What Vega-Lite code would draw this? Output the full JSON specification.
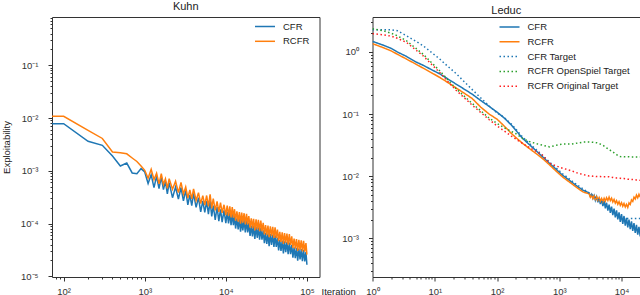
{
 "$schema": "https://vega.github.io/schema/vega-lite/v6.json",
 "padding": {"left": 0, "top": 0, "right": 0, "bottom": 0},
 "background": "white",
 "bounds": "flush",
 "spacing": 52.5,
 "config": {
  "font": "Liberation Sans",
  "view": {"stroke": "#333333", "strokeWidth": 1},
  "axis": {"domain": false, "grid": false, "tickColor": "#333333", "tickWidth": 1, "labelFont": "Liberation Sans", "labelFontSize": 9.5, "labelColor": "#333333", "titleFont": "Liberation Sans", "titleFontSize": 9.5, "titleFontWeight": "normal", "titleColor": "#222222", "labelOverlap": false, "labelFlush": false},
  "title": {"font": "Liberation Sans", "fontSize": 11, "fontWeight": "normal", "color": "#222222", "offset": 1},
  "legend": {"orient": "none", "labelFont": "Liberation Sans", "labelFontSize": 9.5, "labelColor": "#222222", "symbolSize": 100, "symbolStrokeWidth": 1.5, "symbolType": "M-2,0H2", "rowPadding": 3.8, "labelOffset": 12}
 },
 "resolve": {"scale": {"color": "independent", "strokeDash": "independent"}},
 "datasets": {
  "kuhn": [
   {"x":72,"CFR":7.8e-3,"RCFR":1.08e-2},
   {"x":100,"CFR":7.8e-3,"RCFR":1.08e-2},
   {"x":200,"CFR":3.62e-3,"RCFR":5.86e-3},
   {"x":300,"CFR":3.04e-3,"RCFR":4.1e-3},
   {"x":400,"CFR":1.9e-3,"RCFR":2.27e-3},
   {"x":500,"CFR":1.23e-3,"RCFR":2.2e-3},
   {"x":600,"CFR":1.4e-3,"RCFR":2.1e-3},
   {"x":700,"CFR":9.1e-4,"RCFR":1.75e-3},
   {"x":800,"CFR":8.8e-4,"RCFR":1.5e-3},
   {"x":900,"CFR":1.1e-3,"RCFR":1.23e-3},
   {"x":1000,"CFR":9.5e-4,"RCFR":1.02e-3},
   {"x":1100,"CFR":5.75e-4,"RCFR":7.24e-4},
   {"x":1200,"CFR":8.43e-4,"RCFR":1.07e-3},
   {"x":1300,"CFR":4.78e-4,"RCFR":6.82e-4},
   {"x":1400,"CFR":7.87e-4,"RCFR":8.99e-4},
   {"x":1500,"CFR":4.61e-4,"RCFR":5.66e-4},
   {"x":1600,"CFR":7.66e-4,"RCFR":8.87e-4},
   {"x":1700,"CFR":4.41e-4,"RCFR":5.5e-4},
   {"x":1800,"CFR":6.31e-4,"RCFR":7.05e-4},
   {"x":1900,"CFR":3.64e-4,"RCFR":4.66e-4},
   {"x":2000,"CFR":5.96e-4,"RCFR":7.08e-4},
   {"x":2200,"CFR":3.09e-4,"RCFR":4.46e-4},
   {"x":2400,"CFR":4.92e-4,"RCFR":6.34e-4},
   {"x":2600,"CFR":2.92e-4,"RCFR":3.86e-4},
   {"x":2800,"CFR":4.82e-4,"RCFR":6.03e-4},
   {"x":3000,"CFR":2.69e-4,"RCFR":3.63e-4},
   {"x":3200,"CFR":4.24e-4,"RCFR":4.92e-4},
   {"x":3400,"CFR":2.26e-4,"RCFR":3.05e-4},
   {"x":3600,"CFR":3.49e-4,"RCFR":4.34e-4},
   {"x":3800,"CFR":2.18e-4,"RCFR":2.93e-4},
   {"x":4000,"CFR":3.74e-4,"RCFR":4.55e-4},
   {"x":4300,"CFR":2.03e-4,"RCFR":2.74e-4},
   {"x":4600,"CFR":3.11e-4,"RCFR":3.85e-4},
   {"x":4900,"CFR":1.66e-4,"RCFR":2.38e-4},
   {"x":5200,"CFR":2.69e-4,"RCFR":3.38e-4},
   {"x":5500,"CFR":1.63e-4,"RCFR":2.24e-4},
   {"x":5800,"CFR":2.67e-4,"RCFR":3.4e-4},
   {"x":6100,"CFR":1.51e-4,"RCFR":2.12e-4},
   {"x":6400,"CFR":2.66e-4,"RCFR":3.58e-4},
   {"x":6700,"CFR":1.36e-4,"RCFR":1.94e-4},
   {"x":7000,"CFR":2.19e-4,"RCFR":2.96e-4},
   {"x":7400,"CFR":1.17e-4,"RCFR":1.77e-4},
   {"x":7800,"CFR":2.06e-4,"RCFR":2.62e-4},
   {"x":8200,"CFR":1.11e-4,"RCFR":1.67e-4},
   {"x":8600,"CFR":1.86e-4,"RCFR":2.49e-4},
   {"x":9000,"CFR":1.06e-4,"RCFR":1.6e-4},
   {"x":9500,"CFR":1.77e-4,"RCFR":2.27e-4},
   {"x":10000,"CFR":1.02e-4,"RCFR":1.45e-4},
   {"x":10400,"CFR":1.65e-4,"RCFR":2.18e-4},
   {"x":10800,"CFR":1.01e-4,"RCFR":1.4e-4},
   {"x":11200,"CFR":1.6e-4,"RCFR":2.11e-4},
   {"x":11600,"CFR":9.35e-5,"RCFR":1.3e-4},
   {"x":12000,"CFR":1.55e-4,"RCFR":2.05e-4},
   {"x":12400,"CFR":9.33e-5,"RCFR":1.29e-4},
   {"x":12800,"CFR":1.4e-4,"RCFR":1.87e-4},
   {"x":13200,"CFR":8.04e-5,"RCFR":1.13e-4},
   {"x":13700,"CFR":1.26e-4,"RCFR":1.7e-4},
   {"x":14200,"CFR":7.78e-5,"RCFR":1.09e-4},
   {"x":14700,"CFR":1.23e-4,"RCFR":1.65e-4},
   {"x":15200,"CFR":7.01e-5,"RCFR":9.93e-5},
   {"x":15700,"CFR":1.19e-4,"RCFR":1.61e-4},
   {"x":16200,"CFR":7.38e-5,"RCFR":1.04e-4},
   {"x":16800,"CFR":1.16e-4,"RCFR":1.57e-4},
   {"x":17400,"CFR":6.81e-5,"RCFR":9.64e-5},
   {"x":18000,"CFR":1.13e-4,"RCFR":1.53e-4},
   {"x":18600,"CFR":6.79e-5,"RCFR":9.62e-5},
   {"x":19200,"CFR":1.02e-4,"RCFR":1.39e-4},
   {"x":19900,"CFR":5.83e-5,"RCFR":8.36e-5},
   {"x":20600,"CFR":9.18e-5,"RCFR":1.26e-4},
   {"x":21300,"CFR":5.68e-5,"RCFR":8.15e-5},
   {"x":22000,"CFR":8.95e-5,"RCFR":1.23e-4},
   {"x":22800,"CFR":5.12e-5,"RCFR":7.4e-5},
   {"x":23600,"CFR":8.69e-5,"RCFR":1.2e-4},
   {"x":24400,"CFR":5.37e-5,"RCFR":7.71e-5},
   {"x":25200,"CFR":8.47e-5,"RCFR":1.17e-4},
   {"x":26100,"CFR":4.97e-5,"RCFR":7.18e-5},
   {"x":27000,"CFR":8.24e-5,"RCFR":1.14e-4},
   {"x":27900,"CFR":4.95e-5,"RCFR":7.14e-5},
   {"x":28900,"CFR":7.41e-5,"RCFR":1.03e-4},
   {"x":29900,"CFR":4.25e-5,"RCFR":6.21e-5},
   {"x":30900,"CFR":6.7e-5,"RCFR":9.38e-5},
   {"x":32000,"CFR":4.13e-5,"RCFR":6.04e-5},
   {"x":33100,"CFR":6.5e-5,"RCFR":9.12e-5},
   {"x":34200,"CFR":3.72e-5,"RCFR":5.5e-5},
   {"x":35400,"CFR":6.34e-5,"RCFR":8.89e-5},
   {"x":36600,"CFR":3.92e-5,"RCFR":5.74e-5},
   {"x":37900,"CFR":6.15e-5,"RCFR":8.65e-5},
   {"x":39200,"CFR":3.61e-5,"RCFR":5.33e-5},
   {"x":40500,"CFR":6.01e-5,"RCFR":8.45e-5},
   {"x":41900,"CFR":3.61e-5,"RCFR":5.32e-5},
   {"x":43300,"CFR":5.42e-5,"RCFR":7.69e-5},
   {"x":44800,"CFR":3.1e-5,"RCFR":4.62e-5},
   {"x":46300,"CFR":4.89e-5,"RCFR":6.98e-5},
   {"x":47900,"CFR":3.02e-5,"RCFR":4.51e-5},
   {"x":49600,"CFR":4.75e-5,"RCFR":6.81e-5},
   {"x":51300,"CFR":2.72e-5,"RCFR":4.09e-5},
   {"x":53000,"CFR":4.62e-5,"RCFR":6.62e-5},
   {"x":54800,"CFR":2.86e-5,"RCFR":4.28e-5},
   {"x":56700,"CFR":4.5e-5,"RCFR":6.46e-5},
   {"x":58700,"CFR":2.64e-5,"RCFR":3.97e-5},
   {"x":60700,"CFR":4.38e-5,"RCFR":6.28e-5},
   {"x":62800,"CFR":2.64e-5,"RCFR":3.95e-5},
   {"x":65000,"CFR":3.94e-5,"RCFR":5.71e-5},
   {"x":67200,"CFR":2.26e-5,"RCFR":3.44e-5},
   {"x":69500,"CFR":3.56e-5,"RCFR":5.19e-5},
   {"x":71900,"CFR":2.2e-5,"RCFR":3.34e-5},
   {"x":74400,"CFR":3.46e-5,"RCFR":5.05e-5},
   {"x":77000,"CFR":1.98e-5,"RCFR":3.04e-5},
   {"x":79600,"CFR":3.37e-5,"RCFR":4.92e-5},
   {"x":82300,"CFR":2.08e-5,"RCFR":3.18e-5},
   {"x":85100,"CFR":3.28e-5,"RCFR":4.8e-5},
   {"x":88000,"CFR":1.93e-5,"RCFR":2.96e-5},
   {"x":91000,"CFR":3.19e-5,"RCFR":4.68e-5},
   {"x":94100,"CFR":1.92e-5,"RCFR":2.94e-5},
   {"x":97300,"CFR":2.88e-5,"RCFR":4.26e-5},
   {"x":100000,"CFR":1.66e-5,"RCFR":2.57e-5}
  ],
  "leduc": [
   {"x":1,"CFR":1.48,"RCFR":1.36,"CFR Target":2.28,"RCFR OpenSpiel Target":2.37,"RCFR Original Target":1.97},
   {"x":1.5,"CFR":1.28,"RCFR":1.17,"CFR Target":2.28,"RCFR OpenSpiel Target":2.18,"RCFR Original Target":1.88},
   {"x":2,"CFR":1.14,"RCFR":1.04,"CFR Target":2.28,"RCFR OpenSpiel Target":2.0,"RCFR Original Target":1.8},
   {"x":2.5,"CFR":1.0,"RCFR":0.92,"CFR Target":2.2,"RCFR OpenSpiel Target":1.82,"RCFR Original Target":1.66},
   {"x":3.5,"CFR":0.85,"RCFR":0.77,"CFR Target":1.83,"RCFR OpenSpiel Target":1.52,"RCFR Original Target":1.43},
   {"x":5,"CFR":0.69,"RCFR":0.635,"CFR Target":1.48,"RCFR OpenSpiel Target":1.14,"RCFR Original Target":1.07},
   {"x":6.5,"CFR":0.611,"RCFR":0.55,"CFR Target":1.26,"RCFR OpenSpiel Target":0.92,"RCFR Original Target":0.867},
   {"x":9,"CFR":0.515,"RCFR":0.459,"CFR Target":0.97,"RCFR OpenSpiel Target":0.664,"RCFR Original Target":0.624},
   {"x":12,"CFR":0.445,"RCFR":0.39,"CFR Target":0.77,"RCFR OpenSpiel Target":0.499,"RCFR Original Target":0.468},
   {"x":16,"CFR":0.371,"RCFR":0.325,"CFR Target":0.593,"RCFR OpenSpiel Target":0.362,"RCFR Original Target":0.34},
   {"x":22,"CFR":0.304,"RCFR":0.264,"CFR Target":0.449,"RCFR OpenSpiel Target":0.257,"RCFR Original Target":0.242},
   {"x":30,"CFR":0.251,"RCFR":0.216,"CFR Target":0.33,"RCFR OpenSpiel Target":0.193,"RCFR Original Target":0.182},
   {"x":40,"CFR":0.209,"RCFR":0.178,"CFR Target":0.248,"RCFR OpenSpiel Target":0.148,"RCFR Original Target":0.139},
   {"x":55,"CFR":0.165,"RCFR":0.129,"CFR Target":0.182,"RCFR OpenSpiel Target":0.113,"RCFR Original Target":0.106},
   {"x":75,"CFR":0.133,"RCFR":0.1,"CFR Target":0.134,"RCFR OpenSpiel Target":0.0861,"RCFR Original Target":0.0813},
   {"x":100,"CFR":0.1076,"RCFR":0.083,"CFR Target":0.1047,"RCFR OpenSpiel Target":0.0708,"RCFR Original Target":0.0646},
   {"x":130,"CFR":0.087,"RCFR":0.0646,"CFR Target":0.089,"RCFR OpenSpiel Target":0.0603,"RCFR Original Target":0.0537},
   {"x":170,"CFR":0.0667,"RCFR":0.049,"CFR Target":0.069,"RCFR OpenSpiel Target":0.0528,"RCFR Original Target":0.0443},
   {"x":200,"CFR":0.055,"RCFR":0.0422,"CFR Target":0.0575,"RCFR OpenSpiel Target":0.0486,"RCFR Original Target":0.0398},
   {"x":260,"CFR":0.0404,"RCFR":0.0336,"CFR Target":0.0423,"RCFR OpenSpiel Target":0.0404,"RCFR Original Target":0.0336},
   {"x":330,"CFR":0.0324,"RCFR":0.028,"CFR Target":0.0339,"RCFR OpenSpiel Target":0.0363,"RCFR Original Target":0.0292},
   {"x":420,"CFR":0.026,"RCFR":0.0234,"CFR Target":0.0272,"RCFR OpenSpiel Target":0.0336,"RCFR Original Target":0.0254},
   {"x":540,"CFR":0.0205,"RCFR":0.0193,"CFR Target":0.0215,"RCFR OpenSpiel Target":0.0316,"RCFR Original Target":0.0218},
   {"x":700,"CFR":0.0161,"RCFR":0.0152,"CFR Target":0.0169,"RCFR OpenSpiel Target":0.0297,"RCFR Original Target":0.0162},
   {"x":900,"CFR":0.0128,"RCFR":0.012,"CFR Target":0.0135,"RCFR OpenSpiel Target":0.0316,"RCFR Original Target":0.0146},
   {"x":1130,"CFR":0.0104,"RCFR":0.00977,"CFR Target":0.011,"RCFR OpenSpiel Target":0.0331,"RCFR Original Target":0.0135},
   {"x":1600,"CFR":0.008,"RCFR":0.00753,"CFR Target":0.0084,"RCFR OpenSpiel Target":0.0331,"RCFR Original Target":0.0122},
   {"x":2000,"CFR":0.00676,"RCFR":0.00637,"CFR Target":0.00708,"RCFR OpenSpiel Target":0.0343,"RCFR Original Target":0.0112},
   {"x":2400,"CFR":0.00597,"RCFR":0.00561,"CFR Target":0.0063,"RCFR OpenSpiel Target":0.0355,"RCFR Original Target":0.0107},
   {"x":3020,"CFR":5.4e-3,"RCFR":5.21e-3,"CFR Target":5.37e-3,"RCFR OpenSpiel Target":0.0357,"RCFR Original Target":0.0101},
   {"x":3160,"CFR":4.74e-3,"RCFR":4.59e-3,"CFR Target":5.2e-3,"RCFR OpenSpiel Target":0.0356,"RCFR Original Target":0.0101},
   {"x":3310,"CFR":5.14e-3,"RCFR":4.97e-3,"CFR Target":5.05e-3,"RCFR OpenSpiel Target":0.0354,"RCFR Original Target":0.0101},
   {"x":3470,"CFR":4.43e-3,"RCFR":4.39e-3,"CFR Target":4.89e-3,"RCFR OpenSpiel Target":0.0352,"RCFR Original Target":0.01},
   {"x":3630,"CFR":4.92e-3,"RCFR":4.84e-3,"CFR Target":4.73e-3,"RCFR OpenSpiel Target":0.035,"RCFR Original Target":0.01},
   {"x":3800,"CFR":4.11e-3,"RCFR":4.26e-3,"CFR Target":4.59e-3,"RCFR OpenSpiel Target":0.0348,"RCFR Original Target":0.01},
   {"x":3980,"CFR":4.7e-3,"RCFR":4.7e-3,"CFR Target":4.45e-3,"RCFR OpenSpiel Target":0.0347,"RCFR Original Target":0.0099},
   {"x":4170,"CFR":3.82e-3,"RCFR":4.12e-3,"CFR Target":4.32e-3,"RCFR OpenSpiel Target":0.0342,"RCFR Original Target":0.0099},
   {"x":4370,"CFR":4.49e-3,"RCFR":4.55e-3,"CFR Target":4.18e-3,"RCFR OpenSpiel Target":0.0336,"RCFR Original Target":0.0099},
   {"x":4570,"CFR":3.56e-3,"RCFR":4.0e-3,"CFR Target":4.05e-3,"RCFR OpenSpiel Target":0.0329,"RCFR Original Target":0.0099},
   {"x":4790,"CFR":4.29e-3,"RCFR":4.42e-3,"CFR Target":3.93e-3,"RCFR OpenSpiel Target":0.0322,"RCFR Original Target":0.0098},
   {"x":5010,"CFR":3.31e-3,"RCFR":3.9e-3,"CFR Target":3.8e-3,"RCFR OpenSpiel Target":0.0316,"RCFR Original Target":0.0098},
   {"x":5250,"CFR":4.02e-3,"RCFR":4.43e-3,"CFR Target":3.65e-3,"RCFR OpenSpiel Target":0.0306,"RCFR Original Target":0.0098},
   {"x":5500,"CFR":3.05e-3,"RCFR":3.99e-3,"CFR Target":3.5e-3,"RCFR OpenSpiel Target":0.0296,"RCFR Original Target":0.0098},
   {"x":5750,"CFR":3.75e-3,"RCFR":4.53e-3,"CFR Target":3.36e-3,"RCFR OpenSpiel Target":0.0287,"RCFR Original Target":0.0098},
   {"x":6030,"CFR":2.81e-3,"RCFR":4.08e-3,"CFR Target":3.22e-3,"RCFR OpenSpiel Target":0.0278,"RCFR Original Target":0.0098},
   {"x":6310,"CFR":3.5e-3,"RCFR":4.63e-3,"CFR Target":3.09e-3,"RCFR OpenSpiel Target":0.0269,"RCFR Original Target":0.0098},
   {"x":6610,"CFR":2.58e-3,"RCFR":4.06e-3,"CFR Target":2.96e-3,"RCFR OpenSpiel Target":0.0262,"RCFR Original Target":0.0097},
   {"x":6920,"CFR":3.26e-3,"RCFR":4.45e-3,"CFR Target":2.84e-3,"RCFR OpenSpiel Target":0.0254,"RCFR Original Target":0.0097},
   {"x":7240,"CFR":2.38e-3,"RCFR":3.87e-3,"CFR Target":2.73e-3,"RCFR OpenSpiel Target":0.0247,"RCFR Original Target":0.0096},
   {"x":7590,"CFR":3.03e-3,"RCFR":4.25e-3,"CFR Target":2.62e-3,"RCFR OpenSpiel Target":0.0239,"RCFR Original Target":0.0095},
   {"x":7940,"CFR":2.19e-3,"RCFR":3.7e-3,"CFR Target":2.51e-3,"RCFR OpenSpiel Target":0.0231,"RCFR Original Target":0.0095},
   {"x":8320,"CFR":2.83e-3,"RCFR":4.06e-3,"CFR Target":2.4e-3,"RCFR OpenSpiel Target":0.0224,"RCFR Original Target":0.0094},
   {"x":8710,"CFR":2.02e-3,"RCFR":3.55e-3,"CFR Target":2.29e-3,"RCFR OpenSpiel Target":0.0217,"RCFR Original Target":0.0094},
   {"x":9120,"CFR":2.64e-3,"RCFR":3.91e-3,"CFR Target":2.19e-3,"RCFR OpenSpiel Target":0.021,"RCFR Original Target":0.0093},
   {"x":9550,"CFR":1.85e-3,"RCFR":3.41e-3,"CFR Target":2.13e-3,"RCFR OpenSpiel Target":0.0208,"RCFR Original Target":0.0093},
   {"x":10000,"CFR":2.46e-3,"RCFR":3.76e-3,"CFR Target":2.09e-3,"RCFR OpenSpiel Target":0.0207,"RCFR Original Target":0.0092},
   {"x":10470,"CFR":1.72e-3,"RCFR":3.3e-3,"CFR Target":2.09e-3,"RCFR OpenSpiel Target":0.0207,"RCFR Original Target":0.0092},
   {"x":10960,"CFR":2.3e-3,"RCFR":3.65e-3,"CFR Target":2.09e-3,"RCFR OpenSpiel Target":0.0206,"RCFR Original Target":0.0092},
   {"x":11480,"CFR":1.61e-3,"RCFR":3.21e-3,"CFR Target":2.09e-3,"RCFR OpenSpiel Target":0.0206,"RCFR Original Target":0.0091},
   {"x":12020,"CFR":2.15e-3,"RCFR":3.54e-3,"CFR Target":2.09e-3,"RCFR OpenSpiel Target":0.0206,"RCFR Original Target":0.0091},
   {"x":12590,"CFR":1.51e-3,"RCFR":3.16e-3,"CFR Target":2.09e-3,"RCFR OpenSpiel Target":0.0206,"RCFR Original Target":0.009},
   {"x":13180,"CFR":2.01e-3,"RCFR":3.73e-3,"CFR Target":2.09e-3,"RCFR OpenSpiel Target":0.0206,"RCFR Original Target":0.009},
   {"x":13800,"CFR":1.41e-3,"RCFR":3.52e-3,"CFR Target":2.09e-3,"RCFR OpenSpiel Target":0.0205,"RCFR Original Target":0.0089},
   {"x":14450,"CFR":1.88e-3,"RCFR":4.17e-3,"CFR Target":2.09e-3,"RCFR OpenSpiel Target":0.0205,"RCFR Original Target":0.0089},
   {"x":15140,"CFR":1.32e-3,"RCFR":3.94e-3,"CFR Target":2.09e-3,"RCFR OpenSpiel Target":0.0205,"RCFR Original Target":0.0089},
   {"x":15850,"CFR":1.76e-3,"RCFR":4.62e-3,"CFR Target":2.09e-3,"RCFR OpenSpiel Target":0.0205,"RCFR Original Target":0.0088},
   {"x":16600,"CFR":1.23e-3,"RCFR":4.32e-3,"CFR Target":2.09e-3,"RCFR OpenSpiel Target":0.0205,"RCFR Original Target":0.0088},
   {"x":17380,"CFR":1.65e-3,"RCFR":4.99e-3,"CFR Target":2.09e-3,"RCFR OpenSpiel Target":0.0205,"RCFR Original Target":0.0087},
   {"x":18200,"CFR":1.15e-3,"RCFR":4.51e-3,"CFR Target":2.09e-3,"RCFR OpenSpiel Target":0.0205,"RCFR Original Target":0.0087},
   {"x":19050,"CFR":1.54e-3,"RCFR":5.12e-3,"CFR Target":2.09e-3,"RCFR OpenSpiel Target":0.0205,"RCFR Original Target":0.0087},
   {"x":19950,"CFR":1.08e-3,"RCFR":4.62e-3,"CFR Target":2.09e-3,"RCFR OpenSpiel Target":0.0205,"RCFR Original Target":0.0086}
  ]
 },
 "hconcat": [
  {
   "title": "Kuhn",
   "width": 267.5,
   "height": 260,
   "data": {"name": "kuhn"},
   "transform": [{"fold": ["CFR", "RCFR"], "as": ["series", "value"]}],
   "mark": {"type": "line", "strokeWidth": 1.5, "clip": true},
   "encoding": {
    "x": {"field": "x", "type": "quantitative",
     "scale": {"type": "log", "domain": [71.8, 143000], "nice": false, "zero": false},
     "axis": {"title": "Iteration", "titleX": 269, "titleY": 14, "titleAlign": "left", "titleBaseline": "middle", "titleAngle": 0, "labelPadding": 5,
      "values": [80,90,100,200,300,400,500,600,700,800,900,1000,2000,3000,4000,5000,6000,7000,8000,9000,10000,20000,30000,40000,50000,60000,70000,80000,90000,100000],
      "tickSize": {"condition": {"test": "abs(log(datum.value)/LN10 - round(log(datum.value)/LN10)) < 0.001", "value": 4}, "value": 2},
      "labelExpr": "abs(log(datum.value)/LN10 - round(log(datum.value)/LN10)) < 0.001 ? ['10⁻⁵','10⁻⁴','10⁻³','10⁻²','10⁻¹','10⁰','10¹','10²','10³','10⁴','10⁵'][round(log(datum.value)/LN10)+5] : ''"}},
    "y": {"field": "value", "type": "quantitative",
     "scale": {"type": "log", "domain": [9.7e-6, 0.823], "nice": false, "zero": false},
     "axis": {"title": "Exploitability", "titlePadding": 9, "labelPadding": 10,
      "values": [1e-5,2e-5,3e-5,4e-5,5e-5,6e-5,7e-5,8e-5,9e-5,1e-4,2e-4,3e-4,4e-4,5e-4,6e-4,7e-4,8e-4,9e-4,1e-3,2e-3,3e-3,4e-3,5e-3,6e-3,7e-3,8e-3,9e-3,0.01,0.02,0.03,0.04,0.05,0.06,0.07,0.08,0.09,0.1,0.2,0.3,0.4,0.5,0.6,0.7,0.8],
      "tickSize": {"condition": {"test": "abs(log(datum.value)/LN10 - round(log(datum.value)/LN10)) < 0.001", "value": 4}, "value": 2},
      "labelExpr": "abs(log(datum.value)/LN10 - round(log(datum.value)/LN10)) < 0.001 ? ['10⁻⁵','10⁻⁴','10⁻³','10⁻²','10⁻¹','10⁰','10¹','10²','10³','10⁴','10⁵'][round(log(datum.value)/LN10)+5] : ''"}},
    "color": {"field": "series", "type": "nominal",
     "scale": {"domain": ["CFR", "RCFR"], "range": ["#1f77b4", "#ff7f0e"]},
     "legend": {"title": null, "legendX": 207, "legendY": 3.5}}
   }
  },
  {
   "title": "Leduc",
   "width": 267.5,
   "height": 260,
   "data": {"name": "leduc"},
   "transform": [{"fold": ["CFR", "RCFR", "CFR Target", "RCFR OpenSpiel Target", "RCFR Original Target"], "as": ["series", "value"]}],
   "mark": {"type": "line", "strokeWidth": 1.5, "clip": true},
   "encoding": {
    "x": {"field": "x", "type": "quantitative",
     "scale": {"type": "log", "domain": [1, 19800], "nice": false, "zero": false},
     "axis": {"title": null, "labelPadding": 5,
      "values": [1,2,3,4,5,6,7,8,9,10,20,30,40,50,60,70,80,90,100,200,300,400,500,600,700,800,900,1000,2000,3000,4000,5000,6000,7000,8000,9000,10000],
      "tickSize": {"condition": {"test": "abs(log(datum.value)/LN10 - round(log(datum.value)/LN10)) < 0.001", "value": 4}, "value": 2},
      "labelExpr": "abs(log(datum.value)/LN10 - round(log(datum.value)/LN10)) < 0.001 ? ['10⁻⁵','10⁻⁴','10⁻³','10⁻²','10⁻¹','10⁰','10¹','10²','10³','10⁴','10⁵'][round(log(datum.value)/LN10)+5] : ''"}},
    "y": {"field": "value", "type": "quantitative",
     "scale": {"type": "log", "domain": [2.4e-4, 3.65], "nice": false, "zero": false},
     "axis": {"title": null, "labelPadding": 10,
      "values": [3e-4,4e-4,5e-4,6e-4,7e-4,8e-4,9e-4,1e-3,2e-3,3e-3,4e-3,5e-3,6e-3,7e-3,8e-3,9e-3,0.01,0.02,0.03,0.04,0.05,0.06,0.07,0.08,0.09,0.1,0.2,0.3,0.4,0.5,0.6,0.7,0.8,0.9,1,2,3],
      "tickSize": {"condition": {"test": "abs(log(datum.value)/LN10 - round(log(datum.value)/LN10)) < 0.001", "value": 4}, "value": 2},
      "labelExpr": "abs(log(datum.value)/LN10 - round(log(datum.value)/LN10)) < 0.001 ? ['10⁻⁵','10⁻⁴','10⁻³','10⁻²','10⁻¹','10⁰','10¹','10²','10³','10⁴','10⁵'][round(log(datum.value)/LN10)+5] : ''"}},
    "color": {"field": "series", "type": "nominal",
     "scale": {"domain": ["CFR", "RCFR", "CFR Target", "RCFR OpenSpiel Target", "RCFR Original Target"], "range": ["#1f77b4", "#ff7f0e", "#1f77b4", "#2ca02c", "#ff2020"]},
     "legend": {"title": null, "legendX": 131, "legendY": 4}},
    "strokeDash": {"field": "series", "type": "nominal",
     "scale": {"domain": ["CFR", "RCFR", "CFR Target", "RCFR OpenSpiel Target", "RCFR Original Target"], "range": [[1, 0], [1, 0], [1.5, 2.5], [1.5, 2.5], [1.5, 2.5]]},
     "legend": {"title": null, "legendX": 131, "legendY": 4}}
   }
  }
 ]
}
